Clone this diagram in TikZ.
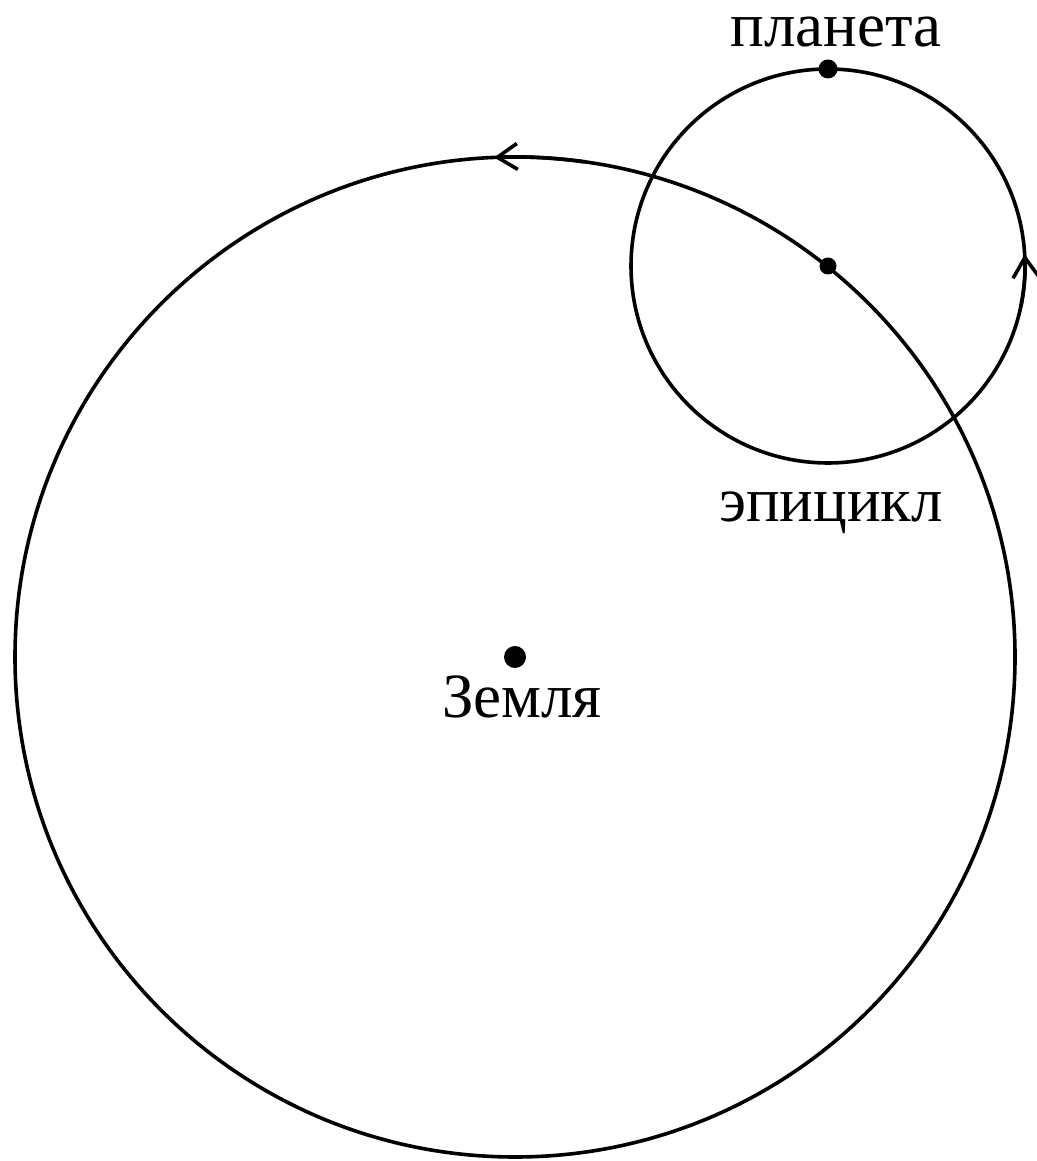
\documentclass[tikz,border=0pt]{standalone}
\usepackage{fontspec}
\setmainfont{Liberation Serif}
\usetikzlibrary{arrows.meta}

\begin{document}
\begin{tikzpicture}[x=0.5pt,y=0.5pt,>={Straight Barb[length=10pt,width=13pt,line width=1.8pt]},
  orbit/.style={black,line width=1.8pt},
  dot/.style={circle,fill=black,inner sep=0pt},
  every node/.style={font=\fontsize{31.5pt}{38pt}\selectfont}]
  \useasboundingbox (0,0) rectangle (1037,1161);
  % Earth sits at the centre of the deferent, the epicycle centre rides on it.
  \coordinate (earth) at (515,504);
  \coordinate (epi) at (828,895);

  \draw[orbit] (earth) circle[radius=500];
  \draw[orbit] (epi) circle[radius=197];

  % direction of motion on both circles
  \draw[orbit,->,shift={(earth)}] (82:500)
    arc[start angle=82,end angle=92.4,radius=500];
  \draw[orbit,->,shift={(epi)}] (-12:197)
    arc[start angle=-12,end angle=3.4,radius=197];

  \node[dot,minimum size=11pt] (earthdot) at (earth) {};
  \node[dot,minimum size=8.5pt] (epidot) at (epi) {};
  \node[dot,minimum size=9.5pt] (planet) at ([shift={(90:197)}]epi) {};

  \node[anchor=base] (planetlabel) at (836,1114) {планета};
  \node[anchor=base] (epilabel) at (831,639) {эпицикл};
  \node[anchor=base] (earthlabel) at (522,443) {Земля};
\end{tikzpicture}
\end{document}
